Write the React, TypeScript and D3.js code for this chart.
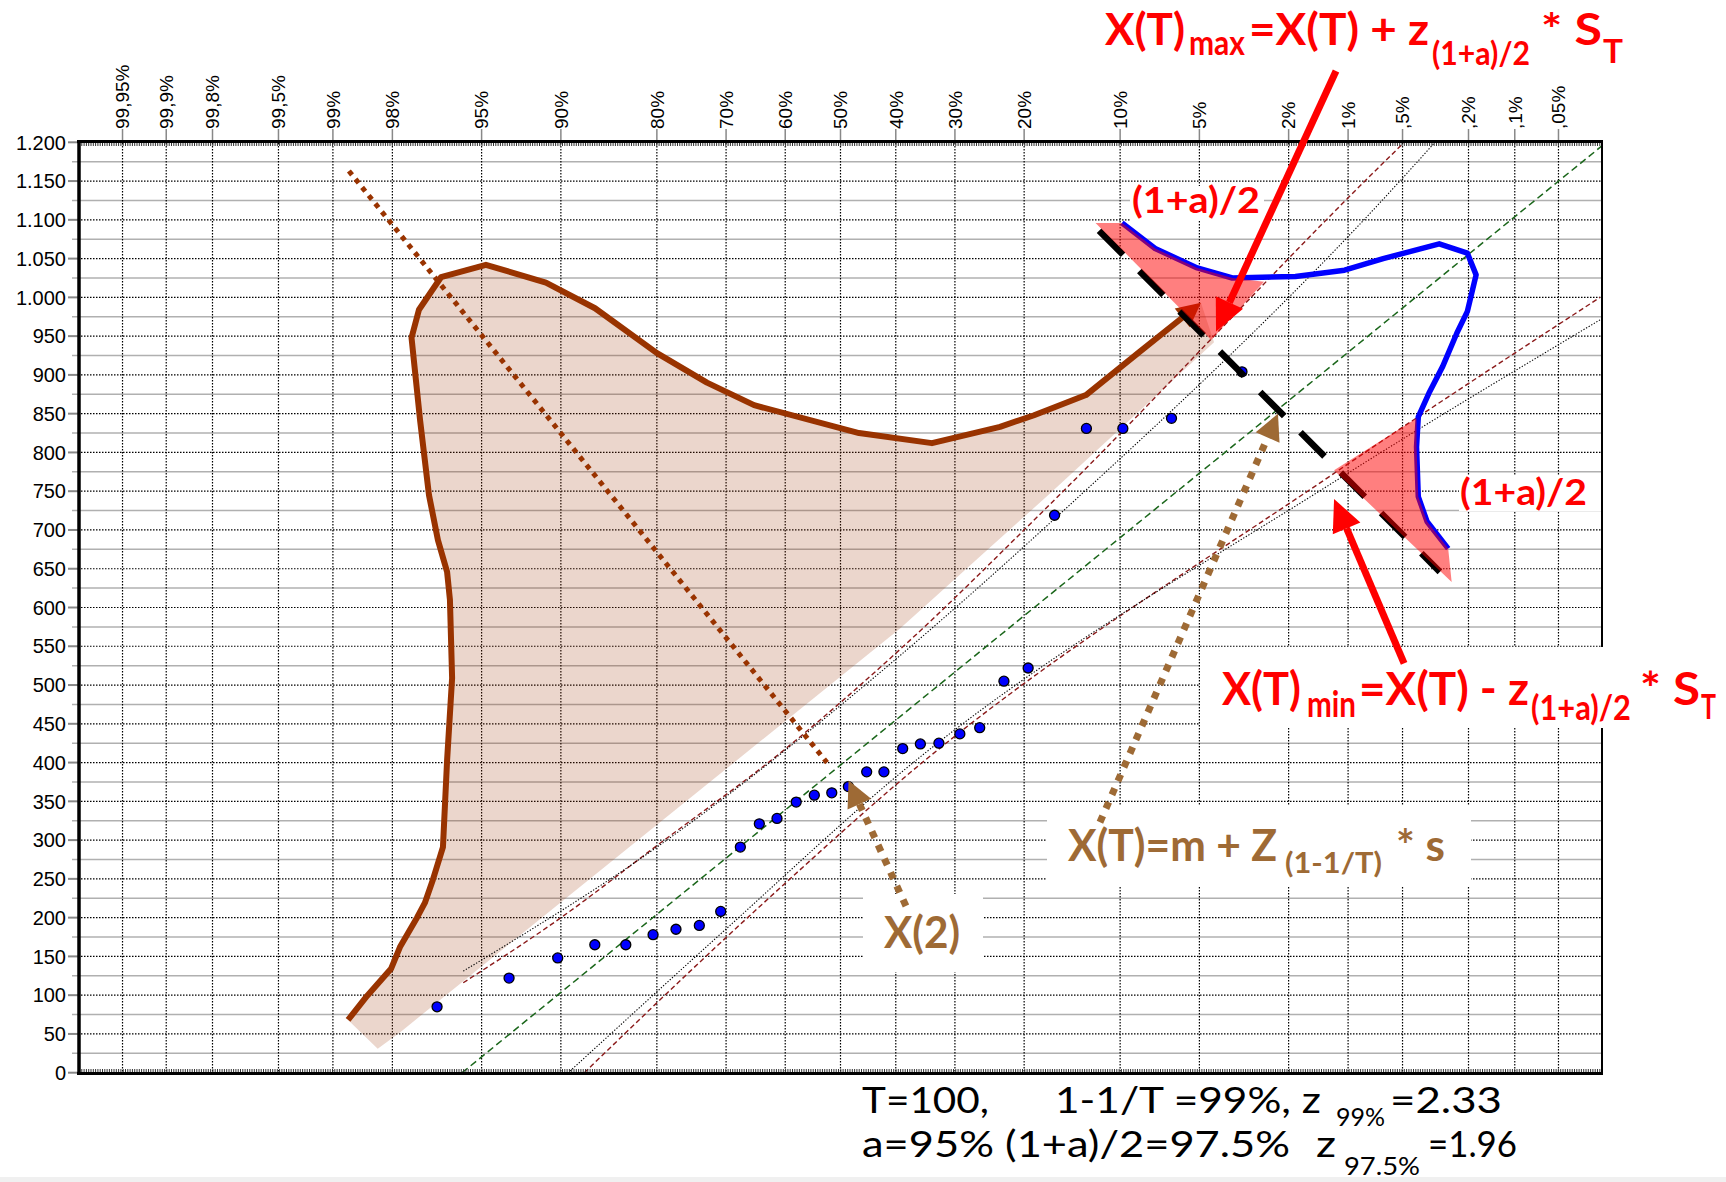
import React from 'react';
import * as d3 from 'd3';

const W = 1726;
const H = 1182;

// top axis: exceedance probability of each vertical grid line
const probTicks = [0.9995, 0.999, 0.998, 0.995, 0.99, 0.98, 0.95, 0.9, 0.8, 0.7, 0.6, 0.5, 0.4, 0.3, 0.2, 0.1, 0.05, 0.02, 0.01, 0.005, 0.002, 0.001, 0.0005];
const probLabels = ['99,95%', '99,9%', '99,8%', '99,5%', '99%', '98%', '95%', '90%', '80%', '70%', '60%', '50%', '40%', '30%', '20%', '10%', '5%', '2%', '1%', ',5%', ',2%', ',1%', ',05%'];

// value axis
const yTicks = [0, 50, 100, 150, 200, 250, 300, 350, 400, 450, 500, 550, 600, 650, 700, 750, 800, 850, 900, 950, 1000, 1050, 1100, 1150, 1200];
const yMinor = yTicks.slice(0, -1).map(v => v + 25);

// observations: normal variate z and value
const obsZ = [-1.849, -1.519, -1.296, -1.126, -0.984, -0.859, -0.754, -0.647, -0.549, -0.459, -0.372, -0.291, -0.203, -0.120, -0.040, 0.036, 0.120, 0.199, 0.285, 0.366, 0.451, 0.547, 0.638, 0.749, 0.860, 0.981, 1.127, 1.294, 1.517, 1.840];
const obsValue = [85, 122, 148, 165, 165, 178, 185, 190, 208, 291, 321, 328, 349, 358, 361, 369, 388, 388, 418, 424, 425, 437, 445, 505, 522, 719, 831, 831, 844, 904];

// fitted line and confidence bounds, [z, value]
const fitLine = [[-1.734, 0], [3.488, 1195]];
const upperRed = [[-1.729, 116], [-1.286, 199], [-0.841, 293], [-0.251, 418], [0.273, 546], [0.960, 733], [2.407, 1151], [2.580, 1199]];
const lowerRed = [[-1.174, 0], [-0.522, 175], [-0.247, 246], [0.273, 376], [2.262, 773], [3.481, 1000]];
const upperBlack = [[-1.729, 131], [-0.841, 291], [0.273, 538], [0.960, 709], [2.567, 1151], [2.721, 1199]];
const lowerBlack = [[-1.240, 2], [-0.522, 186], [0.273, 386], [2.262, 762], [3.481, 971]];

// brown curve (ends with an arrow) and the shaded area under it
const brownCurve = [[-2.257, 68], [-2.170, 99], [-2.060, 134], [-2.019, 162], [-1.941, 200], [-1.905, 219], [-1.868, 249], [-1.822, 291], [-1.803, 403], [-1.780, 509], [-1.790, 610], [-1.803, 646], [-1.845, 687], [-1.886, 745], [-1.927, 842], [-1.966, 948], [-1.932, 984], [-1.831, 1026], [-1.625, 1042], [-1.350, 1019], [-1.125, 986], [-0.841, 928], [-0.612, 890], [-0.396, 861], [0.085, 825], [0.419, 812], [0.731, 833], [0.887, 848], [1.125, 874], [1.372, 930], [1.652, 993]];
const shadeEdge = [[1.712, 942], [0.960, 747], [0.273, 573], [-2.019, 52], [-2.121, 31]];
const brownDotted = [[-2.253, 1163], [-0.062, 400]];

// blue curve and the two red triangles
const blueCurve = [[1.290, 1096], [1.442, 1063], [1.635, 1038], [1.796, 1025], [2.085, 1027], [2.310, 1035], [2.487, 1050], [2.744, 1069], [2.873, 1057], [2.913, 1029], [2.873, 982], [2.825, 954], [2.760, 911], [2.696, 876], [2.648, 846], [2.640, 807], [2.648, 743], [2.688, 711], [2.785, 676]];
const pinkUpper = [[1.169, 1096], [1.290, 1096], [1.442, 1063], [1.635, 1038], [1.796, 1025], [1.941, 1020], [1.699, 945]];
const pinkLower = [[2.262, 777], [2.640, 844], [2.640, 807], [2.648, 743], [2.688, 711], [2.785, 676], [2.801, 633]];
const blackDashed = [[1.185, 1086], [2.747, 646]];

// arrows [from, to]
const arrowX2 = [[0.300, 215], [0.037, 377]];
const arrowXT = [[1.189, 323], [2.005, 850]];
const arrowMax = [[2.271, 1292], [1.721, 956]];
const arrowMin = [[2.583, 528], [2.262, 740]];

const BROWN = '#993300';
const TAN = '#9e6a35';
const RED = '#ff0000';
const MAROON = '#8b1a1a';
const GREEN = '#1a661a';
const LABEL = 'Lato, "Open Sans", sans-serif';
const AXISF = '"Liberation Sans", Arial, sans-serif';

// inverse standard normal (Acklam)
function probit(p: number) {
  const a = [-39.69683028665376, 220.9460984245205, -275.9285104469687, 138.357751867269, -30.66479806614716, 2.506628277459239];
  const b = [-54.47609879822406, 161.5858368580409, -155.6989798598866, 66.80131188771972, -13.28068155288572];
  const c = [-0.007784894002430293, -0.3223964580411365, -2.400758277161838, -2.549732539343734, 4.374664141464968, 2.938163982698783];
  const d = [0.007784695709041462, 0.3224671290700398, 2.445134137142996, 3.754408661907416];
  const pl = 0.02425;
  if (p < pl) {
    const q = Math.sqrt(-2 * Math.log(p));
    return (((((c[0] * q + c[1]) * q + c[2]) * q + c[3]) * q + c[4]) * q + c[5]) / ((((d[0] * q + d[1]) * q + d[2]) * q + d[3]) * q + 1);
  }
  if (p > 1 - pl) return -probit(1 - p);
  const q = p - 0.5, r = q * q;
  return (((((a[0] * r + a[1]) * r + a[2]) * r + a[3]) * r + a[4]) * r + a[5]) * q / (((((b[0] * r + b[1]) * r + b[2]) * r + b[3]) * r + b[4]) * r + 1);
}

const x = d3.scaleLinear().domain([-3.49, 3.49]).range([79, 1602]);
const y = d3.scaleLinear().domain([0, 1200]).range([1072.7, 142.3]);
const px = (d: number[]) => [x(d[0]), y(d[1])];
const poly = d3.line<number[]>().x(d => x(d[0])).y(d => y(d[1]));
const smooth = d3.line<number[]>().x(d => x(d[0])).y(d => y(d[1])).curve(d3.curveMonotoneX);
const fmt = d3.formatLocale({ decimal: ',', thousands: '.', grouping: [3], currency: ['', ''] }).format(',d');

function arrow(p0: number[], p1: number[], len: number, half: number) {
  const [x0, y0] = p0;
  const [x1, y1] = p1;
  const L = Math.hypot(x1 - x0, y1 - y0);
  const ux = (x1 - x0) / L, uy = (y1 - y0) / L;
  const bx = x1 - ux * len, by = y1 - uy * len;
  return {
    base: [bx, by],
    shaft: `M${x0},${y0}L${bx},${by}`,
    head: `M${x1},${y1}L${bx - uy * half},${by + ux * half}L${bx + uy * half},${by - ux * half}Z`,
  };
}

const T = (p: any) => (
  <text x={p.x} y={p.y} fontSize={p.size} fill={p.fill || RED} fontWeight={p.weight || 700}
    fontFamily={LABEL} textLength={p.w} lengthAdjust="spacingAndGlyphs">{p.children}</text>
);

export default function App() {
  const brownPx = brownCurve.map(px);
  const bArrow = arrow(brownPx[brownPx.length - 2], brownPx[brownPx.length - 1], 24, 12);
  const brownPath = d3.line()(brownPx.slice(0, -1).concat([bArrow.base]) as [number, number][]);
  const aX2 = arrow(px(arrowX2[0]), px(arrowX2[1]), 26, 13);
  const aXT = arrow(px(arrowXT[0]), px(arrowXT[1]), 26, 13);
  const aMax = arrow(px(arrowMax[0]), px(arrowMax[1]), 32, 15);
  const aMin = arrow(px(arrowMin[0]), px(arrowMin[1]), 32, 15);
  const shade = poly(brownCurve.concat(shadeEdge)) + 'Z';

  return (
    <div style={{ position: 'absolute', left: 0, top: 0 }}>
      <svg width={W} height={H} style={{ display: 'block', background: '#fff' }}>
        {/* grid */}
        {yMinor.map(v => (
          <line key={'m' + v} x1={72} x2={1602} y1={y(v)} y2={y(v)} stroke="#b0b0b0" strokeWidth={1.5} />
        ))}
        {yTicks.map(v => (
          <g key={'t' + v}>
            <line x1={81} x2={1602} y1={y(v)} y2={y(v)} stroke="#000" strokeWidth={1.2} strokeDasharray="1.5,1.5" />
            <line x1={68} x2={79} y1={y(v)} y2={y(v)} stroke="#888" strokeWidth={2} />
            <text x={66} y={y(v)} dy="0.36em" textAnchor="end" fontSize={20} fontFamily={AXISF} fill="#000">{fmt(v)}</text>
          </g>
        ))}
        {probTicks.map((p, i) => {
          const xx = x(probit(1 - p));
          return (
            <g key={'p' + i}>
              <line x1={xx} x2={xx} y1={143} y2={1072} stroke="#000" strokeWidth={1.2} strokeDasharray="1.5,1.5" />
              <line x1={xx} x2={xx} y1={129} y2={141} stroke="#888" strokeWidth={1.5} />
              <text transform={`translate(${xx},129) rotate(-90)`} dy="0.36em" fontSize={19} fontFamily={AXISF} fill="#000">{probLabels[i]}</text>
            </g>
          );
        })}

        {/* white boxes behind labels */}
        <rect x={1047} y={805} width={424} height={82} fill="#fff" />
        <rect x={863} y={894} width={120} height={78} fill="#fff" />
        <rect x={1200} y={647} width={526} height={81} fill="#fff" />
        <rect x={1130} y={186} width={134} height={35} fill="#fff" />
        <rect x={1459} y={476} width={142} height={35} fill="#fff" />

        {/* shaded area */}
        <path d={shade} fill={BROWN} fillOpacity={0.2} stroke="none" />

        {/* fit and bounds */}
        <path d={poly(fitLine)!} fill="none" stroke={GREEN} strokeWidth={1.5} strokeDasharray="7,4" />
        <path d={smooth(upperRed)!} fill="none" stroke={MAROON} strokeWidth={1.4} strokeDasharray="5,3" />
        <path d={smooth(lowerRed)!} fill="none" stroke={MAROON} strokeWidth={1.4} strokeDasharray="5,3" />
        <path d={smooth(upperBlack)!} fill="none" stroke="#000" strokeWidth={1.1} strokeDasharray="1.3,1.7" />
        <path d={smooth(lowerBlack)!} fill="none" stroke="#000" strokeWidth={1.1} strokeDasharray="1.3,1.7" />

        {/* observations */}
        {obsZ.map((z, i) => (
          <circle key={'o' + i} cx={x(z)} cy={y(obsValue[i])} r={5} fill="#0000ff" stroke="#000" strokeWidth={1.3} />
        ))}

        {/* brown curve, dotted line */}
        <path d={brownPath!} fill="none" stroke={BROWN} strokeWidth={6} strokeLinejoin="round" />
        <path d={bArrow.head} fill={BROWN} />
        <path d={poly(brownDotted)!} fill="none" stroke={BROWN} strokeWidth={5} strokeDasharray="5,5.5" />

        {/* blue curve, black dashed, red triangles */}
        <path d={poly(blueCurve)!} fill="none" stroke="#0000ff" strokeWidth={5.5} strokeLinejoin="round" />
        <path d={poly(blackDashed)!} fill="none" stroke="#000" strokeWidth={6.5} strokeDasharray="34,23" />
        <path d={poly(pinkUpper) + 'Z'} fill={RED} fillOpacity={0.5} />
        <path d={poly(pinkLower) + 'Z'} fill={RED} fillOpacity={0.5} />

        {/* frame */}
        <line x1={77} x2={1603} y1={141.5} y2={141.5} stroke="#000" strokeWidth={3} />
        <line x1={79} x2={1602} y1={144.5} y2={144.5} stroke="#333" strokeWidth={3} strokeDasharray="1,1.3" />
        <line x1={79} x2={1602} y1={1070.5} y2={1070.5} stroke="#333" strokeWidth={3} strokeDasharray="1,1.3" />
        <line x1={77} x2={1603} y1={1073.5} y2={1073.5} stroke="#000" strokeWidth={3} />
        <line x1={79} x2={79} y1={140} y2={1075} stroke="#000" strokeWidth={3.5} />
        <line x1={1602} x2={1602} y1={140} y2={647} stroke="#000" strokeWidth={2} />
        <line x1={1602} x2={1602} y1={728} y2={1075} stroke="#000" strokeWidth={2} />

        {/* arrows */}
        <path d={aX2.shaft} fill="none" stroke={TAN} strokeWidth={7} strokeDasharray="7,8" />
        <path d={aX2.head} fill={TAN} />
        <path d={aXT.shaft} fill="none" stroke={TAN} strokeWidth={7} strokeDasharray="7,8" />
        <path d={aXT.head} fill={TAN} />
        <path d={aMax.shaft} fill="none" stroke={RED} strokeWidth={7} />
        <path d={aMax.head} fill={RED} />
        <path d={aMin.shaft} fill="none" stroke={RED} strokeWidth={7} />
        <path d={aMin.head} fill={RED} />

        {/* formulas */}
        <T x={1105} y={45} w={80} size={44}>X(T)</T>
        <T x={1189} y={55} w={56} size={34}>max</T>
        <T x={1249} y={45} w={180} size={44}>=X(T) + z</T>
        <T x={1432} y={65} w={98} size={32}>(1+a)/2</T>
        <T x={1541} y={45} w={61} size={44}>* S</T>
        <T x={1603} y={63} w={20} size={32}>T</T>

        <T x={1132} y={213} w={128} size={36}>(1+a)/2</T>
        <T x={1460} y={505} w={127} size={36}>(1+a)/2</T>

        <T x={1222} y={705} w={79} size={46}>X(T)</T>
        <T x={1307} y={717} w={49} size={36}>min</T>
        <T x={1359} y={705} w={170} size={46}>=X(T) - z</T>
        <T x={1531} y={720} w={100} size={34}>(1+a)/2</T>
        <T x={1640} y={705} w={60} size={46}>* S</T>
        <T x={1701} y={719} w={15} size={34}>T</T>

        <T x={1068} y={861} w={209} size={44} fill={TAN}>X(T)=m + Z</T>
        <T x={1285} y={873} w={97} size={28} fill={TAN}>(1-1/T)</T>
        <T x={1396} y={861} w={49} size={44} fill={TAN}>* s</T>
        <T x={884} y={948} w={76} size={43} fill={TAN}>X(2)</T>

        <T x={862} y={1113} w={127} size={36} fill="#000" weight={400}>T=100,</T>
        <T x={1055} y={1113} w={266} size={36} fill="#000" weight={400}>1-1/T =99%, z</T>
        <T x={1336} y={1126} w={49} size={25} fill="#000" weight={400}>99%</T>
        <T x={1390} y={1113} w={112} size={36} fill="#000" weight={400}>=2.33</T>
        <T x={862} y={1157} w={428} size={36} fill="#000" weight={400}>a=95% (1+a)/2=97.5%</T>
        <T x={1316} y={1157} w={20} size={36} fill="#000" weight={400}>z</T>
        <T x={1344} y={1175} w={76} size={25} fill="#000" weight={400}>97.5%</T>
        <T x={1428} y={1157} w={89} size={36} fill="#000" weight={400}>=1.96</T>

        <rect x={0} y={1177} width={W} height={5} fill="#f0f0f0" />
      </svg>
    </div>
  );
}
